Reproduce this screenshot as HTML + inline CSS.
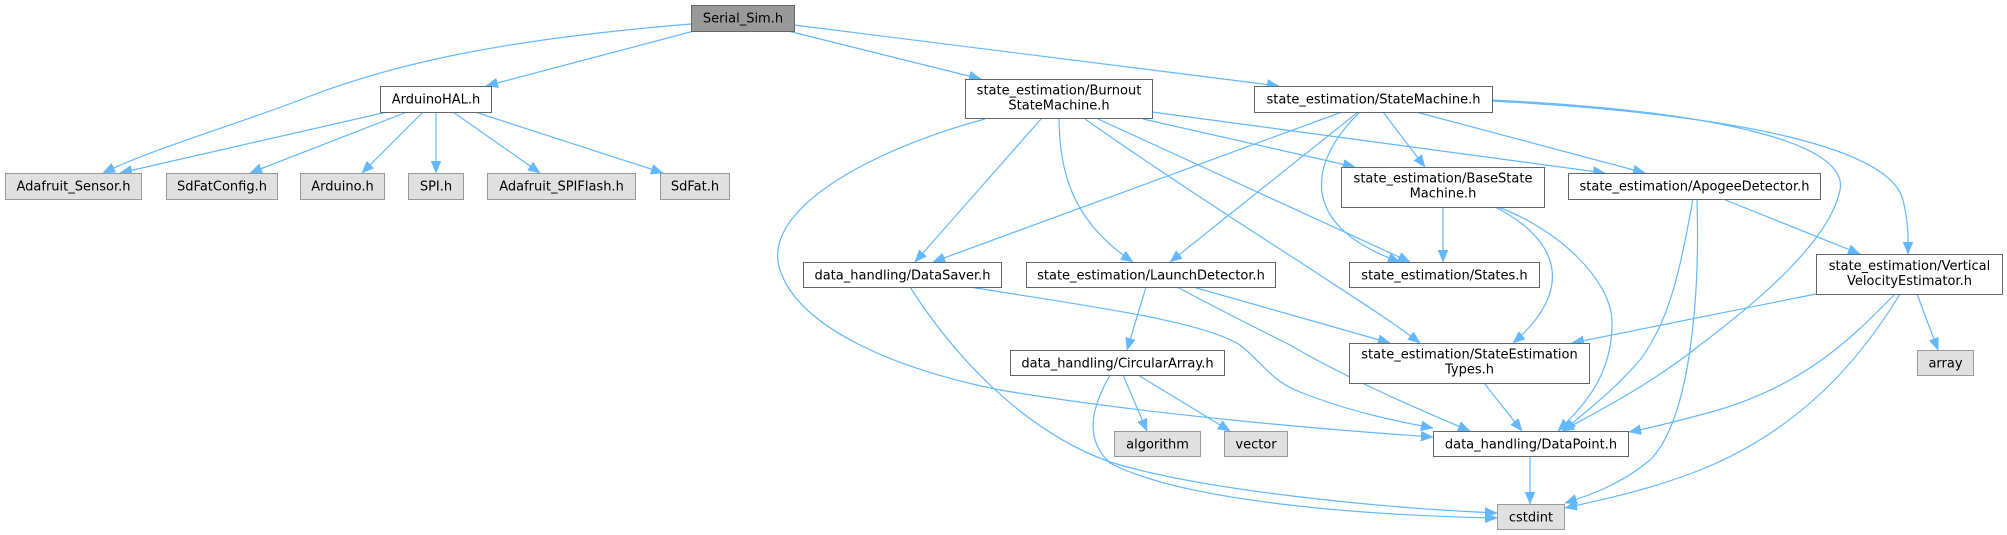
<!DOCTYPE html>
<html>
<head>
<meta charset="utf-8">
<style>
html,body{margin:0;padding:0;background:#fff;}
svg{display:block;}
text{font-family:"DejaVu Sans","Liberation Sans",sans-serif;font-size:13px;fill:#000;text-anchor:middle;}
.e{fill:none;stroke:#63b8ff;stroke-width:1.2;marker-end:url(#ah);}
.n{fill:#fff;stroke:#666;stroke-width:1;}
.x{fill:#e0e0e0;stroke:#999;stroke-width:1;}
.r{fill:#999;stroke:#666;stroke-width:1;}
</style>
</head>
<body>
<svg width="2007" height="535" viewBox="0 0 2007 535" xmlns="http://www.w3.org/2000/svg">
<defs>
<marker id="ah" markerUnits="userSpaceOnUse" markerWidth="14" markerHeight="12" refX="12" refY="5" orient="auto">
<path d="M0,0 L12,5 L0,10 z" fill="#63b8ff" stroke="#63b8ff" stroke-width="0.5"/>
</marker>
</defs>

<!-- edges from Serial_Sim -->
<path class="e" d="M691,24 C520,38 400,60 300,100 C220,130 150,150 103,173"/>
<path class="e" d="M694,31 L486,86"/>
<path class="e" d="M788,31 L981,79"/>
<path class="e" d="M794,25 L1279,86"/>

<!-- ArduinoHAL -->
<path class="e" d="M387,112 L120,173"/>
<path class="e" d="M407,112 L250,173"/>
<path class="e" d="M423,112 L362,173"/>
<path class="e" d="M436,112 L436,173"/>
<path class="e" d="M453,112 L540,173"/>
<path class="e" d="M475,112 L663,173"/>

<!-- Burnout -->
<path class="e" d="M985,119 C870,150 760,210 780,270 C800,330 900,370 1000,390 C1150,415 1330,430 1433,437"/>
<path class="e" d="M1041,119 L915,262"/>
<path class="e" d="M1059,119 C1060,170 1070,220 1133,262"/>
<path class="e" d="M1098,119 L1410,262"/>
<path class="e" d="M1085,119 C1150,165 1250,230 1300,262 C1350,295 1390,320 1420,343"/>
<path class="e" d="M1143,119 L1355,167"/>
<path class="e" d="M1152,112 L1605,173"/>

<!-- StateMachine -->
<path class="e" d="M1342,112 L933,262"/>
<path class="e" d="M1358,112 L1170,262"/>
<path class="e" d="M1360,112 C1310,160 1295,225 1400,262"/>
<path class="e" d="M1383,112 L1425,167"/>
<path class="e" d="M1416,112 L1645,173"/>
<path class="e" d="M1492,100 C1700,110 1850,140 1840,190 C1830,240 1760,300 1700,345 C1650,385 1600,410 1562,431"/>
<path class="e" d="M1492,101 C1750,115 1890,150 1903,200 C1909,225 1908,240 1908,254"/>

<!-- BaseStateMachine -->
<path class="e" d="M1443,207 L1443,262"/>
<path class="e" d="M1495,207 C1560,240 1575,290 1513,343"/>
<path class="e" d="M1498,207 C1560,230 1610,280 1612,320 C1613,370 1590,400 1558,431"/>

<!-- ApogeeDetector -->
<path class="e" d="M1723,199 L1860,254"/>
<path class="e" d="M1693,199 C1680,270 1670,320 1640,360 C1610,395 1580,415 1564,431"/>
<path class="e" d="M1697,199 C1700,300 1690,420 1650,460 C1620,485 1590,495 1565,503"/>

<!-- VelocityEstimator -->
<path class="e" d="M1816,294 L1572,343"/>
<path class="e" d="M1917,294 L1938,350"/>
<path class="e" d="M1895,294 C1850,340 1800,390 1700,415 C1670,423 1650,428 1629,432"/>
<path class="e" d="M1900,294 C1860,360 1800,430 1700,470 C1650,490 1600,500 1565,508"/>

<!-- DataSaver -->
<path class="e" d="M910,287 C950,350 1020,430 1110,462 C1200,490 1380,508 1497,513"/>
<path class="e" d="M970,287 C1080,305 1200,320 1240,345 C1265,365 1270,380 1300,392 C1350,412 1400,422 1433,428"/>

<!-- LaunchDetector -->
<path class="e" d="M1146,287 L1127,350"/>
<path class="e" d="M1193,287 L1390,343"/>
<path class="e" d="M1177,287 C1220,310 1260,330 1290,345 C1350,380 1420,410 1470,431"/>

<!-- StateEstimationTypes -->
<path class="e" d="M1484,383 L1522,431"/>

<!-- CircularArray -->
<path class="e" d="M1123,375 L1147,431"/>
<path class="e" d="M1138,375 L1230,431"/>
<path class="e" d="M1110,375 C1090,410 1085,440 1110,463 C1180,500 1350,515 1497,518"/>

<!-- DataPoint -->
<path class="e" d="M1530,456 L1530,504"/>

<!-- nodes -->
<rect class="r" x="691.5" y="5.5" width="103" height="26"/><text x="743" y="22.5">Serial_Sim.h</text>
<rect class="n" x="380.5" y="86.5" width="111" height="26"/><text x="436" y="103.5">ArduinoHAL.h</text>

<rect class="x" x="5.5" y="173.5" width="136" height="26"/><text x="73.5" y="190.5">Adafruit_Sensor.h</text>
<rect class="x" x="166.5" y="173.5" width="111" height="26"/><text x="222" y="190.5">SdFatConfig.h</text>
<rect class="x" x="300.5" y="173.5" width="84" height="26"/><text x="342.5" y="190.5">Arduino.h</text>
<rect class="x" x="408.5" y="173.5" width="55" height="26"/><text x="436" y="190.5">SPI.h</text>
<rect class="x" x="487.5" y="173.5" width="148" height="26"/><text x="561.5" y="190.5">Adafruit_SPIFlash.h</text>
<rect class="x" x="660.5" y="173.5" width="69" height="26"/><text x="695" y="190.5">SdFat.h</text>

<rect class="n" x="965.5" y="79.5" width="187" height="39"/>
<text x="1059" y="94.5">state_estimation/Burnout</text>
<text x="1059" y="109.5">StateMachine.h</text>

<rect class="n" x="1254.5" y="86.5" width="238" height="26"/><text x="1373.5" y="103.5">state_estimation/StateMachine.h</text>

<rect class="n" x="1341.5" y="167.5" width="203" height="40"/>
<text x="1443" y="182.5">state_estimation/BaseState</text>
<text x="1443" y="197.5">Machine.h</text>

<rect class="n" x="1568.5" y="173.5" width="252" height="26"/><text x="1694.5" y="190.5">state_estimation/ApogeeDetector.h</text>

<rect class="n" x="803.5" y="262.5" width="198" height="25"/><text x="902.5" y="279.5">data_handling/DataSaver.h</text>
<rect class="n" x="1026.5" y="262.5" width="249" height="25"/><text x="1151" y="279.5">state_estimation/LaunchDetector.h</text>
<rect class="n" x="1349.5" y="262.5" width="190" height="25"/><text x="1444.5" y="279.5">state_estimation/States.h</text>

<rect class="n" x="1816.5" y="254.5" width="186" height="40"/>
<text x="1909.5" y="270">state_estimation/Vertical</text>
<text x="1909.5" y="285">VelocityEstimator.h</text>

<rect class="n" x="1010.5" y="350.5" width="214" height="25"/><text x="1117.5" y="367.5">data_handling/CircularArray.h</text>

<rect class="n" x="1349.5" y="343.5" width="240" height="40"/>
<text x="1469.5" y="358.5">state_estimation/StateEstimation</text>
<text x="1469.5" y="373.5">Types.h</text>

<rect class="x" x="1917.5" y="350.5" width="56" height="25"/><text x="1945.5" y="367.5">array</text>

<rect class="x" x="1114.5" y="431.5" width="86" height="25"/><text x="1157.5" y="448.5">algorithm</text>
<rect class="x" x="1224.5" y="431.5" width="63" height="25"/><text x="1256" y="448.5">vector</text>
<rect class="n" x="1433.5" y="431.5" width="195" height="25"/><text x="1531" y="448.5">data_handling/DataPoint.h</text>

<rect class="x" x="1497.5" y="504.5" width="67" height="25"/><text x="1531" y="521.5">cstdint</text>
</svg>
</body>
</html>
